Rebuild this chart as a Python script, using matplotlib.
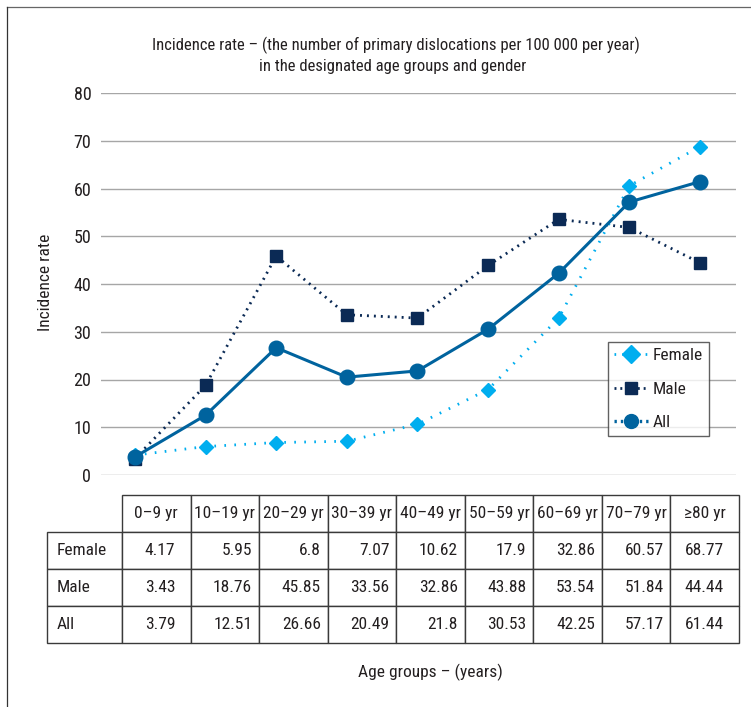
import numpy as np
import matplotlib
matplotlib.use("Agg")
import matplotlib.pyplot as plt
from matplotlib import font_manager as fm
from matplotlib.lines import Line2D
from matplotlib.table import Table

# incidence per 100 000 per year, by age group
AGE_GROUPS = ["0–9 yr", "10–19 yr", "20–29 yr", "30–39 yr", "40–49 yr",
              "50–59 yr", "60–69 yr", "70–79 yr", "≥80 yr"]
FEMALE = [4.17, 5.95, 6.8, 7.07, 10.62, 17.9, 32.86, 60.57, 68.77]
MALE = [3.43, 18.76, 45.85, 33.56, 32.86, 43.88, 53.54, 51.84, 44.44]
ALL = [3.79, 12.51, 26.66, 20.49, 21.8, 30.53, 42.25, 57.17, 61.44]
Y_TICKS = [0, 10, 20, 30, 40, 50, 60, 70, 80]

C_FEMALE = "#00aeef"
C_MALE = "#0b2a55"
C_ALL = "#00639e"
TXT = "#231f20"
GRID = "#a6a6a6"
EDGE = "#3a3a3a"

W, H = 751, 707

# prefer a narrow face if one is installed
_installed = {f.name for f in fm.fontManager.ttflist}
_narrow = [n for n in ("Liberation Sans Narrow", "Roboto Condensed",
                       "Open Sans Condensed", "Noto Sans Condensed")
           if n in _installed]
_has_dv_cond = any(f.name == "DejaVu Sans" and f.stretch in ("condensed", 700)
                   for f in fm.fontManager.ttflist)
if _narrow:
    FAMILY = [_narrow[0], "DejaVu Sans"]
    FS = 12.5
    STRETCH = "normal"
elif _has_dv_cond:
    FAMILY = ["DejaVu Sans"]
    FS = 11.5
    STRETCH = "condensed"
else:
    FAMILY = ["Liberation Sans", "DejaVu Sans"]
    FS = 11.0
    STRETCH = "normal"

plt.rcParams.update({
    "font.family": FAMILY,
    "font.stretch": STRETCH,
    "font.size": FS,
    "text.color": TXT,
    "axes.labelcolor": TXT,
    "xtick.color": TXT,
    "ytick.color": TXT,
})


def px_rect(x0, y0, x1, y1):
    """Pixel box (top-left origin) -> figure fraction rect"""
    return [x0 / W, 1 - y1 / H, (x1 - x0) / W, (y1 - y0) / H]


fig = plt.figure(figsize=(W / 100, H / 100), dpi=100)

# outer frame, top and left edges only
fig.add_artist(Line2D([7 / W, 1], [1 - 7 / H, 1 - 7 / H], color="#666666", lw=0.9))
fig.add_artist(Line2D([7 / W, 7 / W], [0, 1 - 7 / H], color="#333333", lw=0.9))

# line chart
ax = fig.add_axes(px_rect(101, 93, 736, 475))
x = np.arange(len(AGE_GROUPS))

ax.plot(x, FEMALE, color=C_FEMALE, lw=2.0, ls=(0, (0.6, 3.0)),
        marker="D", ms=7.5, mec=C_FEMALE, mfc=C_FEMALE, zorder=3)
ax.plot(x, MALE, color=C_MALE, lw=2.0, ls=(0, (0.7, 1.8)),
        marker="s", ms=8.5, mec=C_MALE, mfc=C_MALE, zorder=4)
ax.plot(x, ALL, color=C_ALL, lw=2.2, ls="-",
        marker="o", ms=10.5, mec=C_ALL, mfc=C_ALL, zorder=5)

ax.set_xlim(-0.48, 8.51)
ax.set_ylim(0, 80)
ax.set_yticks(Y_TICKS)
ax.set_xticks([])
ax.tick_params(axis="y", length=0, pad=7, labelsize=FS + 0.5)
ax.yaxis.grid(True, color=GRID, lw=1.0)
ax.set_axisbelow(True)
for s in ax.spines.values():
    s.set_visible(False)

handles = [
    Line2D([], [], color=C_FEMALE, lw=2.0, ls=(0, (0.6, 2.2)), marker="D", ms=9),
    Line2D([], [], color=C_MALE, lw=2.0, ls=(0, (0.7, 1.4)), marker="s", ms=8.5),
    Line2D([], [], color=C_ALL, lw=2.4, ls=(0, (0.7, 1.2)), marker="o", ms=10),
]
leg = ax.legend(handles, ["Female", "Male", "All"],
                loc="upper left", bbox_to_anchor=(0.798, 0.348),
                frameon=True, fancybox=False, edgecolor=EDGE,
                handlelength=1.95, handletextpad=0.3, labelspacing=1.05,
                borderpad=0.35, borderaxespad=0)
leg.get_frame().set_linewidth(1.0)

fig.text(396 / W, 1 - 45 / H,
         "Incidence rate – (the number of primary dislocations per 100 000 per year)",
         ha="center", va="center", fontsize=FS * 0.96)
fig.text(393 / W, 1 - 67 / H, "in the designated age groups and gender",
         ha="center", va="center", fontsize=FS * 0.96)
fig.text(45 / W, 1 - 282 / H, "Incidence rate", rotation=90,
         ha="center", va="center")
fig.text(430 / W, 1 - 672 / H, "Age groups – (years)", ha="center", va="center")

# data table under the chart
tax = fig.add_axes(px_rect(47, 495, 739, 643))
tax.axis("off")
rows = [[""] + AGE_GROUPS]
for name, vals in [("Female", FEMALE), ("Male", MALE), ("All", ALL)]:
    rows.append([name] + [f"{v:g}" for v in vals])

col_w = [75] + [68.6] * len(AGE_GROUPS)
tbl = Table(tax, bbox=[0, 0, 1, 1])
for r, row in enumerate(rows):
    for c, txt in enumerate(row):
        if r == 0:
            loc = "center"
        elif c == 0:
            loc = "left"
        else:
            loc = "right"
        cell = tbl.add_cell(r, c, width=col_w[c], height=1, text=txt, loc=loc,
                            facecolor="white", edgecolor=EDGE)
        cell.set_linewidth(1.0)
        cell.get_text().set_fontsize(FS)
        cell.get_text().set_color(TXT)
        if r > 0 and c > 0:
            cell.PAD = 0.22 if c in (1, len(AGE_GROUPS)) else 0.1
        elif c == 0:
            cell.PAD = 0.13
tbl[0, 0].set_visible(False)
tbl.auto_set_font_size(False)
tax.add_table(tbl)

fig.savefig("out.png", dpi=100, facecolor="white")
